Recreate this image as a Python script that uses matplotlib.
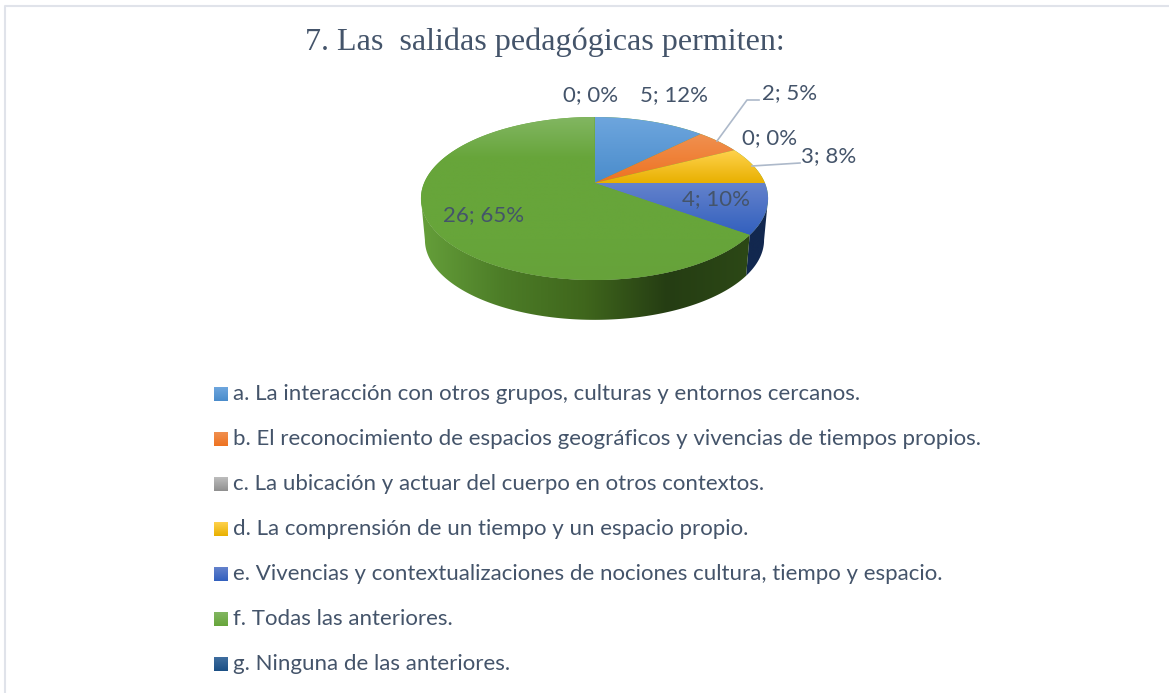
import numpy as np
import matplotlib
matplotlib.use('Agg')
import matplotlib.pyplot as plt
from matplotlib.colors import LinearSegmentedColormap
from matplotlib.patches import Polygon

categories = ['a. La interacción con otros grupos, culturas y entornos cercanos.',
              'b. El reconocimiento de espacios geográficos y vivencias de tiempos propios.',
              'c. La ubicación y actuar del cuerpo en otros contextos.',
              'd. La comprensión de un tiempo y un espacio propio.',
              'e. Vivencias y contextualizaciones de nociones cultura, tiempo y espacio.',
              'f. Todas las anteriores.',
              'g. Ninguna de las anteriores.']
values = [5, 2, 0, 3, 4, 26, 0]
percents = [12, 5, 0, 8, 10, 65, 0]
light = ['#6ea6de', '#f09050', '#bdbdbd', '#ffd24d', '#6482cc', '#82b662', '#3f6e9f']
dark = ['#4a8ccb', '#ee7220', '#8f8f8f', '#e8b000', '#3260be', '#67a53a', '#1b4f85']
wall = ['#2e5f8a', '#8f4a1a', '#666666', '#997300', '#12284f', '#3c6019', '#163a5c']
title = '7. Las  salidas pedagógicas permiten:'
text_col = '#44546a'
line_col = '#adb9ca'

# where the labels sit, in picture pixels
label_pos = [(674, 95), (790, 93), (770, 138), (829, 156), (716, 199), (484, 215), (591, 95)]
legend_y = [394, 439, 484, 529, 574, 619, 664]

cx, cy = 594.5, 183
c, A, K = 0.19, 78.55, 170.4
depth_x = 0.977
t_side = np.arccos(-c)


def project(theta):
    # pie disc seen in perspective, theta clockwise from the top
    u, v = np.sin(theta), np.cos(theta)
    d = 1 + c * v
    return cx + K * u / d, cy - A * v / d


def lower(x, y):
    return cx + (x - cx) * depth_x, (y - 198.5) * 0.98 + 240


def fill_gradient(ax, pts, stops, horizontal=False):
    pts = np.asarray(pts)
    x0, x1 = pts[:, 0].min(), pts[:, 0].max()
    y0, y1 = pts[:, 1].min(), pts[:, 1].max()
    cmap = LinearSegmentedColormap.from_list('g', stops)
    g = np.linspace(0, 1, 256)
    g = g.reshape(1, -1) if horizontal else g.reshape(-1, 1)
    im = ax.imshow(g, extent=(x0, x1, y1, y0), cmap=cmap, aspect='auto', zorder=2, interpolation='bilinear')
    patch = Polygon(pts, closed=True, transform=ax.transData, fc='none', ec='none')
    ax.add_patch(patch)
    im.set_clip_path(patch)


fig = plt.figure(figsize=(11.69, 6.93), dpi=100)
ax = fig.add_axes([0, 0, 1, 1])

# frame of the chart, only left and top are in the picture
ax.plot([5, 5, 1169], [693, 6, 6], color='#e0e3ea', lw=1.5, zorder=1)

edges = np.concatenate([[0], np.cumsum(values)]) / sum(values) * 2 * np.pi

# side wall, only the part between the two widest points shows
for i, v in enumerate(values):
    t0, t1 = max(edges[i], t_side), min(edges[i + 1], 2 * np.pi - t_side)
    if v == 0 or t1 <= t0:
        continue
    t = np.linspace(t0, t1, 160)
    x, y = project(t)
    lx, ly = lower(x, y)
    pts = np.column_stack([np.r_[x, lx[::-1]], np.r_[y, ly[::-1]]])
    if i == 5:
        fill_gradient(ax, pts, ['#659f3a', '#4c7c27', '#3f661c', '#253d13', '#2c4816'], horizontal=True)
    else:
        fill_gradient(ax, pts, [wall[i], wall[i]])

# top face, a flat disc under the slices hides the seams
t = np.linspace(0, 2 * np.pi, 400)
ax.fill(*project(t), color=dark[5], lw=0, zorder=1.5)
for i, v in enumerate(values):
    if v == 0:
        continue
    t = np.linspace(edges[i], edges[i + 1], 160)
    x, y = project(t)
    pts = np.column_stack([np.r_[cx, x], np.r_[cy, y]])
    if i == 5:
        fill_gradient(ax, pts, [light[i], dark[i], dark[i], dark[i], '#66a23a'])
    else:
        fill_gradient(ax, pts, [light[i], dark[i]])

# leader lines for the two outer labels
ax.plot([717, 747, 759], [141, 100, 100], color=line_col, lw=1.2, zorder=3)
ax.plot([752, 800], [166, 163], color=line_col, lw=1.2, zorder=3)

for v, p, pos in zip(values, percents, label_pos):
    ax.text(pos[0], pos[1], f'{v}; {p}%', color=text_col, fontsize=16, family='Lato',
            ha='center', va='center', zorder=4)

ax.text(545, 42, title, color=text_col, fontsize=23.1, family='Liberation Serif',
        ha='center', va='center', zorder=4)

for name, lt, dk, y in zip(categories, light, dark, legend_y):
    fill_gradient(ax, [(214, y - 7), (228, y - 7), (228, y + 7), (214, y + 7)], [lt, dk])
    ax.text(233, y, name, color=text_col, fontsize=16, family='Lato', ha='left', va='center', zorder=4)

ax.set_xlim(0, 1169)
ax.set_ylim(693, 0)
ax.axis('off')
fig.savefig('out.png', dpi=100)
